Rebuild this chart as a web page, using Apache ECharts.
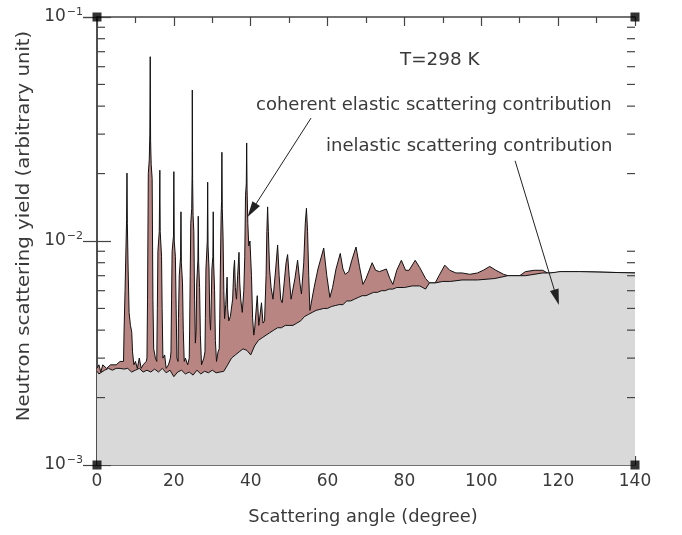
<!DOCTYPE html>
<html>
<head>
<meta charset="utf-8">
<script src="https://cdn.jsdelivr.net/npm/echarts@6/dist/echarts.min.js"></script>
<style>
html,body{margin:0;padding:0;background:#fff;}
#chart{width:682px;height:535px;}
</style>
</head>
<body>
<div id="chart"></div>
<script>
// ---- data (angle in degree, yield in arbitrary unit) ----
const totalYield = [
  [0,0.0027],[0.5,0.0028],[1.0,0.0026],[1.5,0.0028],[2.5,0.0027],[3.5,0.0028],[5,0.0028],[6,0.0029],[6.9,0.0029],
  [7.05,0.0040],[7.3,0.0060],[7.55,0.0095],[7.7,0.0125],[7.8,0.0201],[7.9,0.0120],[8.1,0.0075],[8.35,0.0048],[8.7,0.0042],[8.95,0.0040],[9.05,0.0039],[9.25,0.0032],[9.6,0.0028],
  [10,0.0029],[10.5,0.0027],[11,0.0030],[11.5,0.0027],[12,0.0028],[12.8,0.0029],
  [13.0,0.0030],[13.15,0.0055],[13.35,0.020],[13.6,0.023],[13.75,0.030],[13.85,0.0665],[13.95,0.028],[14.1,0.022],[14.35,0.019],[14.55,0.0055],[14.75,0.0033],[15.2,0.0030],[15.55,0.0029],
  [15.7,0.0050],[15.85,0.0090],[16.2,0.0110],[16.35,0.0207],[16.45,0.0110],[16.8,0.0085],[16.95,0.0050],[17.15,0.0030],[17.6,0.0031],[18,0.0027],[18.6,0.0028],[19.1,0.0030],
  [19.25,0.0032],[19.4,0.0055],[19.55,0.0090],[19.9,0.0105],[20.0,0.0204],[20.1,0.0100],[20.4,0.0085],[20.6,0.0050],[20.8,0.0030],[21.1,0.0029],
  [21.2,0.0045],[21.4,0.0070],[21.75,0.0085],[21.85,0.0135],[21.95,0.0080],[22.25,0.0065],[22.45,0.0040],[22.7,0.0029],[23,0.0030],[23.6,0.0028],[24.0,0.0030],
  [24.1,0.0040],[24.25,0.0070],[24.4,0.0120],[24.65,0.0140],[24.75,0.0200],[24.8,0.0472],[24.88,0.0190],[25.0,0.0130],[25.2,0.0110],[25.4,0.0055],[25.6,0.0035],
  [25.8,0.0040],[25.95,0.0065],[26.25,0.0082],[26.35,0.0129],[26.45,0.0080],[26.7,0.0062],[26.9,0.0038],[27.2,0.0028],[27.8,0.0030],[28.1,0.0032],
  [28.2,0.0045],[28.35,0.0075],[28.7,0.0100],[28.8,0.0183],[28.9,0.0095],[29.15,0.0075],[29.35,0.0045],[29.55,0.0040],
  [29.75,0.0055],[29.9,0.0075],[30.15,0.0085],[30.25,0.0135],[30.35,0.0080],[30.6,0.0060],[30.8,0.0036],[31.1,0.0029],[31.5,0.0032],[31.8,0.0033],
  [31.95,0.0045],[32.1,0.0075],[32.3,0.0130],[32.42,0.0150],[32.5,0.0249],[32.6,0.0140],[32.8,0.0105],[33.0,0.0060],[33.2,0.0045],
  [33.5,0.0052],[33.75,0.0062],[33.85,0.0069],[34.0,0.0050],[34.3,0.0044],[34.7,0.0046],
  [35.3,0.0055],[35.6,0.0075],[35.8,0.0082],[36.0,0.0062],[36.3,0.0055],
  [36.6,0.0070],[36.95,0.0089],[37.15,0.0065],[37.4,0.0055],[37.8,0.0048],[38.2,0.0060],
  [38.45,0.0085],[38.65,0.0160],[38.85,0.0180],[38.95,0.0274],[39.05,0.0170],[39.25,0.0120],[39.5,0.0095],[39.8,0.0100],[40.0,0.0100],[40.2,0.0070],[40.5,0.0045],[40.8,0.0038],[41.0,0.0040],
  [41.7,0.0057],[42.1,0.0042],[42.8,0.0053],[43.2,0.0043],[43.6,0.0044],
  [44.0,0.0070],[44.2,0.0110],[44.4,0.0142],[44.6,0.0110],[44.9,0.0075],[45.3,0.0062],[45.8,0.0055],
  [46.5,0.0075],[47.0,0.0096],[47.4,0.0070],[47.8,0.0055],[48.2,0.0053],
  [48.7,0.0065],[49.2,0.0080],[49.6,0.0087],[50.0,0.0070],[50.5,0.0055],[50.9,0.0054],
  [51.5,0.0068],[52.2,0.0082],[52.8,0.0065],[53.2,0.0058],
  [53.8,0.0080],[54.2,0.0120],[54.5,0.0140],[54.8,0.0110],[55.1,0.0070],[55.4,0.0049],[55.7,0.0049],
  [56.5,0.0062],[57.5,0.0075],[59.0,0.0093],[59.8,0.0070],[60.6,0.0056],[61.3,0.0062],[62.2,0.0075],[63.3,0.0088],[64.0,0.0075],[64.6,0.0071],
  [65.5,0.0073],[66.3,0.0082],[67.4,0.0094],[68.3,0.0077],[69.2,0.0064],[70.0,0.0068],[71.6,0.0080],[72.5,0.0074],[73.5,0.0073],[75.3,0.0075],
  [76.2,0.0068],[77.0,0.0064],[78.0,0.0074],[79.2,0.0082],[80.3,0.0074],[81.2,0.0074],[82.8,0.0082],[84.0,0.0076],[85.5,0.0068],[86.5,0.0065],
  [88.0,0.0065],[89.0,0.0070],[90.5,0.0078],[91.8,0.0074],[93.4,0.0072],[95,0.0072],[97,0.0071],[99,0.0072],[100.5,0.0074],[102.2,0.0077],
  [103.8,0.0074],[105.8,0.0071],[107,0.0070],[110,0.0070],[111.5,0.0073],[113.8,0.0074],[116,0.0074],[117.2,0.0072],[119,0.0072],[121,0.0073],
  [125.6,0.0073],[126,0.0072],[140,0.0072]
];
const inelasticYield = [
  [0,0.00262],[0.5,0.00255],[1,0.0026],[2,0.00265],[3,0.0027],[4,0.00265],[5,0.0027],[6,0.0027],[7,0.00268],[8,0.0027],
  [9,0.0026],[10,0.00265],[11,0.0027],[12,0.0026],[13,0.00265],[14,0.0026],[15,0.00268],[16,0.0026],[17,0.0027],[18,0.00258],
  [19,0.00265],[20,0.00248],[21,0.0026],[22,0.00265],[23,0.00255],[24,0.0026],[25,0.00252],[26,0.00265],[27,0.00255],[28,0.00262],
  [29,0.00258],[30,0.00265],[31,0.00258],[32,0.0026],[33,0.00262],[34,0.0028],[35,0.0030],[36,0.0031],[37,0.0032],[38,0.0033],
  [39,0.00325],[40,0.0031],[41,0.0034],[42,0.0036],[43,0.0037],[44,0.0038],[45,0.0039],[46,0.0040],[47,0.0041],[48,0.0041],
  [49,0.0042],[50,0.0042],[51,0.0042],[52,0.0043],[53,0.0044],[54,0.0046],[55,0.0047],[56,0.0048],[57,0.0049],[58,0.00495],
  [59,0.0050],[60,0.0050],[61,0.0051],[62,0.00515],[63,0.0052],[64,0.0052],[65,0.0054],[66,0.0054],[67,0.0055],[68,0.0056],
  [69,0.0057],[70,0.0057],[71,0.0058],[72,0.0059],[73,0.0059],[74,0.0060],[75,0.0060],[76,0.0061],[77,0.0061],[78,0.0062],
  [80,0.0062],[82,0.0063],[84,0.0063],[85.5,0.0061],[86.5,0.0065],[88,0.0065],[90,0.0066],[92,0.0066],[95,0.0067],[99,0.0067],
  [103.5,0.0068],[106.9,0.0070],[111.5,0.0070],[116,0.0072],[118,0.0072],[120.5,0.0073],[125.6,0.0073],[126,0.0072],[140,0.0072]
];
const xRange = [0, 140];
const yRange = [0.001, 0.1];
const yMinorTicks = [0.002,0.003,0.004,0.005,0.006,0.007,0.008,0.009,0.02,0.03,0.04,0.05,0.06,0.07,0.08,0.09];
const cornerPoints = [[0,0.001],[140,0.001],[0,0.1],[140,0.1]];
// annotation arrows: [start, end] in data coordinates
const arrowCoherent = [[55.7,0.0354],[40.3,0.0137]];
const arrowInelastic = [[108.8,0.0228],[119.6,0.0056]];
const labels = {
  temp: 'T=298 K',
  coherent: 'coherent elastic scattering contribution',
  inelastic: 'inelastic scattering contribution',
  xName: 'Scattering angle (degree)',
  yName: 'Neutron scattering yield (arbitrary unit)'
};

const FONT = 'DejaVu Sans';
const TXT = '#3a3a3a';
const chart = echarts.init(document.getElementById('chart'));

const gridL = 97, gridR = 47, gridT = 17, gridB = 70;

const xCommon = {
  type: 'value', min: xRange[0], max: xRange[1], interval: 20,
  axisLine: {show: true, lineStyle: {color: '#444', width: 1.5}},
  axisTick: {show: true, inside: true, length: 9, lineStyle: {color: '#444', width: 1.2}},
  minorTick: {show: true, splitNumber: 2, length: 6, lineStyle: {color: '#444', width: 1.2}},
  splitLine: {show: false}
};
const yCommon = {
  type: 'log', logBase: 10, min: yRange[0], max: yRange[1],
  axisLine: {show: true, lineStyle: {color: '#444', width: 1.5}},
  axisTick: {show: true, inside: true, length: 14, lineStyle: {color: '#444', width: 1.2}},
  splitLine: {show: false}
};

function txt(text, x, y, size, sx, align, rot) {
  return {
    type: 'text', x: x, y: y, rotation: rot || 0, scaleX: sx, silent: true,
    style: {text: text, font: size + 'px "DejaVu Sans"', fill: TXT, align: align || 'left', verticalAlign: 'middle'}
  };
}

chart.setOption({
  animation: false,
  backgroundColor: '#fff',
  grid: {left: gridL, right: gridR, top: gridT, bottom: gridB},
  xAxis: [
    Object.assign({}, xCommon, {
      position: 'bottom',
      axisLabel: {fontFamily: FONT, fontSize: 17, color: TXT, margin: 8}
    }),
    Object.assign({}, xCommon, {position: 'top', axisLabel: {show: false}})
  ],
  yAxis: [
    Object.assign({}, yCommon, {
      position: 'left',
      axisLabel: {
        margin: 14,
        formatter: function (v) {
          const e = Math.round(Math.log10(v));
          return '{b|10}{s|' + (e < 0 ? '\u2212' + (-e) : e) + '}';
        },
        rich: {
          b: {fontFamily: FONT, fontSize: 17, color: TXT},
          s: {fontFamily: FONT, fontSize: 11, color: TXT, verticalAlign: 'top', padding: [0,0,10,1]}
        }
      }
    }),
    Object.assign({}, yCommon, {position: 'right', axisLabel: {show: false}})
  ],
  graphic: [
    txt(labels.temp, 400, 61, 17, 1.08),
    txt(labels.coherent, 256, 106, 17, 1.06),
    txt(labels.inelastic, 326, 147, 17, 1.06),
    txt(labels.xName, 363, 518, 17, 1.05, 'center'),
    txt(labels.yName, 25, 226, 17, 1.16, 'center', Math.PI / 2)
  ],
  series: [
    {
      name: 'total', type: 'line', data: totalYield, showSymbol: false, symbol: 'none',
      lineStyle: {color: '#111', width: 1},
      areaStyle: {color: '#b98582', opacity: 1, origin: 'start'},
      z: 2,
      markLine: {
        silent: true, symbol: ['none', 'triangle'], symbolSize: [9, 16],
        lineStyle: {color: '#222', width: 1, type: 'solid'},
        itemStyle: {color: '#111'},
        label: {show: false},
        emphasis: {disabled: true},
        data: [
          [{coord: arrowCoherent[0]}, {coord: arrowCoherent[1]}],
          [{coord: arrowInelastic[0]}, {coord: arrowInelastic[1]}]
        ]
      }
    },
    {
      name: 'inelastic', type: 'line', data: inelasticYield, showSymbol: false, symbol: 'none',
      lineStyle: {color: '#111', width: 1},
      areaStyle: {color: '#d9d9d9', opacity: 1, origin: 'start'},
      z: 3
    },
    {
      name: 'minorTicks', type: 'custom', data: yMinorTicks.map(v => [v]), z: 5, silent: true,
      renderItem: function (params, api) {
        const v = api.value(0);
        const pl = api.coord([xRange[0], v]);
        const pr = api.coord([xRange[1], v]);
        return {type: 'group', children: [
          {type: 'line', shape: {x1: pl[0], y1: pl[1], x2: pl[0] + 8, y2: pl[1]}, style: {stroke: '#444', lineWidth: 1.2}},
          {type: 'line', shape: {x1: pr[0] - 8, y1: pr[1], x2: pr[0], y2: pr[1]}, style: {stroke: '#444', lineWidth: 1.2}}
        ]};
      },
      encode: {y: 0}
    },
    {
      name: 'corners', type: 'scatter', data: cornerPoints, symbol: 'rect', symbolSize: 9,
      itemStyle: {color: '#000'}, z: 6, silent: true, clip: false
    }
  ]
});
</script>
</body>
</html>
